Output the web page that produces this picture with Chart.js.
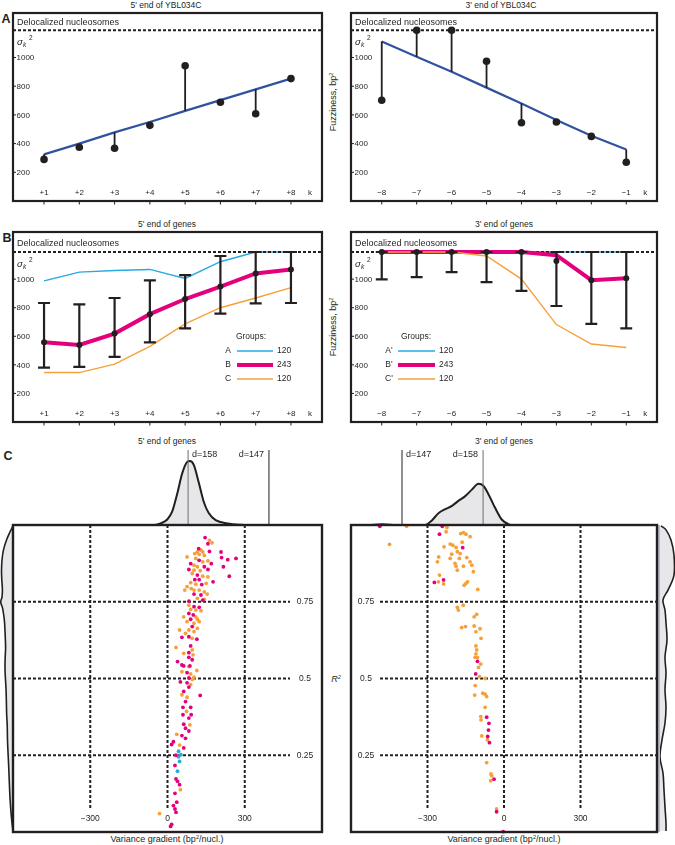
<!DOCTYPE html>
<html>
<head>
<meta charset="utf-8">
<title>Nucleosome fuzziness</title>
<script src="https://cdn.jsdelivr.net/npm/chart.js@4.4.1/dist/chart.umd.min.js"></script>
<style>
  html, body { margin: 0; padding: 0; background: #fff; }
  body { position: relative; width: 675px; height: 845px; overflow: hidden;
         font-family: "Liberation Sans", Arial, sans-serif; color: #231f20; }
  canvas { position: absolute; }
  .lbl { position: absolute; white-space: nowrap; line-height: 1; transform: translate(-50%, -50%); }
  .ttl { font-size: 8.5px; }
  .panel { font-size: 12.5px; font-weight: bold; }
  .ax { font-size: 9px; }
  .rot { transform: translate(-50%, -50%) rotate(-90deg); }
  sup { font-size: 62%; position: relative; top: -0.5em; vertical-align: baseline; }
</style>
</head>
<body>
<div class="lbl panel" style="left:6px;top:19px">A</div>
<div class="lbl panel" style="left:7px;top:238px">B</div>
<div class="lbl panel" style="left:8px;top:456px">C</div>

<div class="lbl ttl" style="left:166px;top:5px">5' end of YBL034C</div>
<div class="lbl ttl" style="left:501px;top:5px">3' end of YBL034C</div>
<div class="lbl ttl" style="left:167px;top:224px">5' end of genes</div>
<div class="lbl ttl" style="left:504px;top:224px">3' end of genes</div>
<div class="lbl ttl" style="left:167px;top:441px">5' end of genes</div>
<div class="lbl ttl" style="left:504px;top:441px">3' end of genes</div>

<div class="lbl ax rot" style="left:333px;top:102px">Fuzziness, bp<sup>2</sup></div>
<div class="lbl ax rot" style="left:333px;top:327px">Fuzziness, bp<sup>2</sup></div>
<div class="lbl ax" style="left:336px;top:679px;font-style:italic">R<sup>2</sup></div>
<div class="lbl ax" style="left:167px;top:839px">Variance gradient (bp<sup>2</sup>/nucl.)</div>
<div class="lbl ax" style="left:504px;top:839px">Variance gradient (bp<sup>2</sup>/nucl.)</div>

<script>
  /* ── colours / fonts ── */
  const INK = '#231f20';
  const MAGENTA = '#e4007c';
  const ORANGE = '#f6a03a';
  const CYAN = '#27a9e1';
  const BLUE = '#3152a0';
  const DENS_FILL = '#e7e7e9';
  const FONT = '"Liberation Sans", Arial, sans-serif';

  /* ── shared axes ── */
  const k5 = [1, 2, 3, 4, 5, 6, 7, 8];
  const k3 = [-8, -7, -6, -5, -4, -3, -2, -1];
  const k5Labels = ['+1', '+2', '+3', '+4', '+5', '+6', '+7', '+8'];
  const k3Labels = ['\u22128', '\u22127', '\u22126', '\u22125', '\u22124', '\u22123', '\u22122', '\u22121'];
  const fuzzTicks = [200, 400, 600, 800, 1000];
  const delocLevel = 1190;

  /* ── A: YBL034C ── */
  const ybl5Obs = [290, 375, 368, 527, 942, 688, 608, 853];
  const ybl5Fit = [325, 400, 478, 550, 628, 703, 778, 853];
  const ybl3Obs = [702, 1190, 1190, 974, 545, 550, 450, 270];
  const ybl3Fit = [1112, 1005, 900, 790, 680, 565, 455, 359];

  /* ── B: all genes ── */
  const genes5Mean = [558, 539, 619, 755, 861, 948, 1040, 1068];
  const genes5Lo = [381, 386, 456, 558, 656, 758, 831, 833];
  const genes5Hi = [833, 824, 868, 991, 1028, 1162, 1190, 1190];
  const genes5A = [988, 1049, 1061, 1068, 1005, 1122, 1190, 1190];
  const genes5C = [346, 346, 405, 529, 687, 800, 868, 941];

  const genes3Line = [1190, 1190, 1190, 1190, 1190, 1168, 993, 1007];
  const genes3Dot = [1190, 1190, 1190, 1190, 1190, 1127, 993, 1007];
  const genes3Lo = [998, 1014, 1049, 979, 918, 812, 687, 656];
  const genes3Hi = [1190, 1190, 1190, 1190, 1190, 1190, 1190, 1190];
  const genes3A = [1190, 1190, 1190, 1190, 1190, 1190, 1190, 1190];
  const genes3C = [1190, 1190, 1190, 1162, 1000, 682, 546, 522];

  const groups5 = ['A', 'B', 'C'];
  const groups3 = ["A'", "B'", "C'"];
  const groupCounts = [120, 243, 120];

  /* ── C: variance gradient vs R² ── */
  const gradTicks = [-300, 0, 300];
  const gradLabels = ['\u2212300', '0', '300'];
  const r2Ticks = [0.25, 0.5, 0.75];
  const r2Labels = ['0.25', '0.5', '0.75'];

  const grad5Magenta = [[146,0.959],[157,0.939],[121,0.923],[163,0.914],[208,0.912],[210,0.894],[234,0.887],[266,0.891],[217,0.864],[240,0.833],[123,0.885],[170,0.874],[90,0.874],[143,0.864],[83,0.855],[157,0.855],[116,0.837],[106,0.822],[123,0.822],[177,0.815],[133,0.806],[103,0.775],[130,0.772],[137,0.755],[83,0.752],[103,0.734],[123,0.732],[83,0.712],[100,0.707],[90,0.693],[96,0.669],[56,0.634],[83,0.636],[114,0.628],[90,0.606],[83,0.584],[83,0.569],[39,0.555],[96,0.561],[56,0.544],[63,0.541],[87,0.541],[76,0.519],[83,0.502],[50,0.489],[76,0.486],[83,0.472],[127,0.445],[63,0.458],[70,0.425],[60,0.406],[90,0.406],[92,0.382],[60,0.382],[83,0.371],[63,0.351],[70,0.338],[83,0.329],[56,0.314],[70,0.305],[23,0.294],[16,0.285],[63,0.274],[33,0.250],[29,0.217],[33,0.173],[39,0.165],[47,0.154],[29,0.126],[36,0.097],[23,0.086],[29,0.075],[33,0.064],[16,0.025],[12,0.018]];
  const grad5Orange = [[163,0.950],[173,0.942],[130,0.918],[116,0.912],[137,0.912],[106,0.907],[123,0.904],[143,0.901],[76,0.896],[110,0.891],[137,0.880],[157,0.883],[103,0.869],[116,0.864],[103,0.853],[127,0.851],[96,0.842],[137,0.833],[157,0.831],[90,0.812],[110,0.807],[150,0.810],[76,0.799],[92,0.793],[103,0.788],[123,0.788],[67,0.788],[143,0.782],[154,0.775],[116,0.761],[143,0.758],[83,0.739],[90,0.725],[110,0.723],[130,0.721],[63,0.701],[110,0.701],[116,0.693],[76,0.685],[103,0.680],[123,0.685],[116,0.663],[83,0.658],[103,0.653],[47,0.658],[70,0.647],[96,0.631],[33,0.601],[96,0.593],[63,0.582],[99,0.577],[83,0.539],[114,0.526],[56,0.522],[90,0.515],[103,0.504],[96,0.497],[90,0.480],[56,0.447],[76,0.439],[74,0.393],[87,0.349],[36,0.318],[47,0.283],[50,0.138],[-31,0.060]];
  const grad5Cyan = [[43,0.263],[52,0.252],[43,0.245],[47,0.230],[39,0.198]];

  const grad3Magenta = [[-487,0.996],[-242,0.996],[-253,0.970],[-162,0.926],[-237,0.821],[-273,0.813],[-104,0.556],[-111,0.515],[-68,0.374],[-59,0.354],[-61,0.332],[-64,0.311],[-57,0.291],[-39,0.172],[-29,0.066],[-3,0.001]];
  const grad3Orange = [[-382,0.996],[-449,0.937],[-224,0.992],[-227,0.978],[-170,0.972],[-159,0.975],[-149,0.970],[-133,0.962],[-164,0.944],[-211,0.938],[-201,0.934],[-188,0.927],[-235,0.929],[-183,0.913],[-172,0.907],[-205,0.905],[-256,0.896],[-211,0.891],[-175,0.891],[-146,0.894],[-133,0.880],[-261,0.880],[-192,0.875],[-188,0.866],[-159,0.866],[-126,0.869],[-183,0.853],[-120,0.848],[-253,0.837],[-257,0.815],[-237,0.808],[-143,0.815],[-149,0.810],[-156,0.804],[-103,0.790],[-183,0.732],[-160,0.739],[-179,0.723],[-107,0.709],[-117,0.701],[-166,0.666],[-151,0.669],[-117,0.671],[-94,0.662],[-110,0.652],[-90,0.631],[-110,0.606],[-107,0.593],[-110,0.580],[-113,0.569],[-104,0.568],[-91,0.547],[-100,0.536],[-96,0.506],[-74,0.500],[-113,0.477],[-83,0.452],[-74,0.449],[-68,0.441],[-115,0.446],[-74,0.406],[-91,0.376],[-90,0.365],[-87,0.313],[-65,0.300],[-68,0.226],[-51,0.189],[-48,0.183],[-52,0.167],[-29,0.075]];

  // marginal densities (gradient, relative height) and (R², width)
  const dens5Top = [[-600,0],[-300,0],[-100,0.005],[-60,0.01],[-27,0.04],[-1,0.1],[18,0.22],[38,0.5],[57,0.81],[77,0.99],[87,1.0],[102,0.94],[122,0.66],[141,0.37],[160,0.2],[187,0.09],[233,0.04],[284,0.02],[390,0.01],[600,0]];
  const dens3Top = [[-600,0],[-593,0.005],[-529,0.015],[-476,0.026],[-425,0.01],[-347,0.005],[-308,0.015],[-282,0.09],[-256,0.2],[-230,0.26],[-204,0.31],[-178,0.39],[-152,0.46],[-126,0.56],[-100,0.65],[-81,0.62],[-61,0.49],[-35,0.28],[-9,0.1],[17,0.03],[43,0.005],[600,0]];
  const dens5Side = [[0.997,0],[0.974,3.5],[0.951,6.5],[0.919,9.5],[0.886,11],[0.85,11.5],[0.821,11.2],[0.79,10.6],[0.765,11],[0.749,12.3],[0.73,10.5],[0.70,9],[0.68,8.4],[0.64,7.8],[0.60,7.4],[0.57,7.8],[0.53,8],[0.49,7.4],[0.46,6.9],[0.42,6.6],[0.38,6.3],[0.35,5.8],[0.30,5.5],[0.26,5],[0.22,4.4],[0.18,3.9],[0.14,3.4],[0.10,2.8],[0.06,1.9],[0.03,1],[0.003,0]];
  const dens3Side = [[0.997,3],[0.984,8],[0.951,13],[0.902,16],[0.837,16],[0.788,10],[0.756,5],[0.723,7],[0.681,8],[0.625,9],[0.570,7],[0.518,8],[0.463,7],[0.407,8],[0.355,7],[0.300,4],[0.244,2],[0.192,5],[0.137,6],[0.081,7],[0.029,8],[0.003,8]];

  const repeat5Labels = ['d=158', 'd=147'];
  const repeat5Pos = [80, 394];
  const repeat3Labels = ['d=147', 'd=158'];
  const repeat3Pos = [-400, -82];

  /* ── helpers ── */
  function makeCanvas(left, top, w, h) {
    const c = document.createElement('canvas');
    c.width = w; c.height = h;
    c.style.left = left + 'px'; c.style.top = top + 'px';
    c.style.width = w + 'px'; c.style.height = h + 'px';
    document.body.appendChild(c);
    return c;
  }

  function baseOpts(pad, xr, yr) {
    return {
      responsive: false, animation: false, events: [], devicePixelRatio: 1,
      layout: { padding: pad },
      plugins: { legend: { display: false }, tooltip: { enabled: false } },
      scales: {
        x: { type: 'linear', display: false, min: xr[0], max: xr[1] },
        y: { type: 'linear', display: false, min: yr[0], max: yr[1] }
      }
    };
  }

  function lineDs(pts, color, width, order, extra) {
    return Object.assign({
      data: pts, showLine: true, borderColor: color, borderWidth: width,
      pointRadius: 0, fill: false, tension: 0, order: order
    }, extra || {});
  }

  function seg(ctx, x1, y1, x2, y2) {
    ctx.beginPath(); ctx.moveTo(x1, y1); ctx.lineTo(x2, y2); ctx.stroke();
  }

  function xy(ks, vals) { return ks.map((k, i) => ({ x: k, y: vals[i] })); }

  /* frame, ticks and labels for the fuzziness panels (A, B) */
  function fuzzDeco(cfg) {
    return {
      id: 'fuzzDeco',
      afterDraw(chart) {
        const ctx = chart.ctx, a = chart.chartArea, xs = chart.scales.x, ys = chart.scales.y;
        ctx.save();
        ctx.strokeStyle = INK; ctx.fillStyle = INK;
        ctx.lineWidth = 2.2;
        ctx.strokeRect(a.left, a.top, a.right - a.left, a.bottom - a.top);

        ctx.lineWidth = 1;
        ctx.font = '8px ' + FONT;
        ctx.textAlign = 'left'; ctx.textBaseline = 'middle';
        fuzzTicks.forEach(v => {
          const y = ys.getPixelForValue(v);
          seg(ctx, a.left, y, a.left + 3, y);
          ctx.fillText(String(v), a.left + 3.5, y + 0.5);
        });
        ctx.textAlign = 'center';
        cfg.k.forEach((k, i) => {
          const x = xs.getPixelForValue(k);
          seg(ctx, x, a.bottom, x, a.bottom + 3.5);
          ctx.fillText(cfg.kLabels[i], x, a.bottom - 8.5);
        });
        ctx.fillText('k', xs.getPixelForValue(cfg.k[cfg.k.length - 1]) + 19, a.bottom - 8.5);

        const yd = ys.getPixelForValue(delocLevel);
        ctx.textAlign = 'left';
        ctx.font = '9px ' + FONT;
        ctx.fillText('Delocalized nucleosomes', a.left + 4, yd - 8);
        ctx.font = 'italic 9.5px ' + FONT;
        ctx.fillText('\u03C3', a.left + 4, yd + 12);
        ctx.font = 'italic 6.5px ' + FONT;
        ctx.fillText('k', a.left + 10, yd + 15);
        ctx.font = '6.5px ' + FONT;
        ctx.fillText('2', a.left + 16, yd + 8);

        if (cfg.legend) {
          const L = cfg.legend;
          const x0 = a.left, y0 = a.top;
          ctx.font = '8.5px ' + FONT;
          ctx.textAlign = 'center';
          ctx.fillText('Groups:', x0 + L.title, y0 + 105);
          L.names.forEach((n, i) => {
            const y = y0 + 119 + i * 14;
            ctx.textAlign = 'center';
            ctx.fillText(n, x0 + L.letter, y);
            ctx.strokeStyle = L.colors[i]; ctx.lineWidth = L.widths[i];
            seg(ctx, x0 + L.line[0], y, x0 + L.line[1], y);
            ctx.textAlign = 'left';
            ctx.fillText(String(groupCounts[i]), x0 + L.count, y);
          });
        }
        ctx.restore();
      }
    };
  }

  /* ── A panels ── */
  function yblChart(canvas, pad, xr, ks, labels, obs, fit) {
    const datasets = [
      lineDs([{ x: xr[0], y: delocLevel }, { x: xr[1], y: delocLevel }], INK, 2, 4, { borderDash: [3, 2] }),
      lineDs(xy(ks, fit), BLUE, 2.2, 3)
    ];
    ks.forEach((k, i) => {
      datasets.push(lineDs([{ x: k, y: obs[i] }, { x: k, y: fit[i] }], INK, 1.8, 2));
    });
    datasets.push({ data: xy(ks, obs), pointRadius: 3.8, pointBackgroundColor: INK,
                    pointBorderWidth: 0, order: 0, clip: false });
    new Chart(canvas, {
      type: 'scatter', data: { datasets },
      options: baseOpts(pad, xr, [0, 1310]),
      plugins: [fuzzDeco({ k: ks, kLabels: labels })]
    });
  }

  /* ── B panels ── */
  function errorBars(ks, lo, hi, capHalf) {
    const pts = [];
    ks.forEach((k, i) => {
      pts.push({ x: k, y: lo[i] }, { x: k, y: hi[i] }, { x: k, y: null });
      pts.push({ x: k - capHalf, y: hi[i] }, { x: k + capHalf, y: hi[i] }, { x: k, y: null });
      pts.push({ x: k - capHalf, y: lo[i] }, { x: k + capHalf, y: lo[i] }, { x: k, y: null });
    });
    return pts;
  }

  function genesChart(canvas, pad, xr, ks, labels, lineB, dotB, lo, hi, serA, serC, legend) {
    const datasets = [
      lineDs(xy(ks, serA), CYAN, 1.4, 6),
      lineDs([{ x: xr[0], y: delocLevel }, { x: xr[1], y: delocLevel }], INK, 2, 5, { borderDash: [3, 2] }),
      lineDs(xy(ks, lineB), MAGENTA, 4, 4),
      lineDs(xy(ks, serC), ORANGE, 1.4, 3),
      lineDs(errorBars(ks, lo, hi, 0.17), INK, 2.2, 2, { spanGaps: false }),
      { data: xy(ks, dotB), pointRadius: 3, pointBackgroundColor: INK, pointBorderWidth: 0, order: 0, clip: false }
    ];
    new Chart(canvas, {
      type: 'scatter', data: { datasets },
      options: baseOpts(pad, xr, [0, 1330]),
      plugins: [fuzzDeco({ k: ks, kLabels: labels, legend })]
    });
  }

  /* ── C panels ── */
  function scatterDeco(cfg) {
    return {
      id: 'scatterDeco',
      beforeDatasetsDraw(chart) {
        const ctx = chart.ctx, a = chart.chartArea, xs = chart.scales.x, ys = chart.scales.y;
        ctx.save();
        ctx.strokeStyle = INK; ctx.lineWidth = 2; ctx.setLineDash([3, 2]);
        gradTicks.forEach(v => {
          const x = xs.getPixelForValue(v);
          seg(ctx, x, a.top, x, a.bottom - 22);
        });
        r2Ticks.forEach(v => {
          const y = ys.getPixelForValue(v);
          seg(ctx, a.left + cfg.hFrom, y, a.right - cfg.hTo, y);
        });
        ctx.restore();
      },
      afterDraw(chart) {
        const ctx = chart.ctx, a = chart.chartArea, xs = chart.scales.x, ys = chart.scales.y;
        ctx.save();
        if (cfg.strip) {
          ctx.fillStyle = '#b9b9d2';
          ctx.fillRect(a.right, a.top, 3, a.bottom - a.top);
        }
        ctx.strokeStyle = INK; ctx.lineWidth = 2.4;
        ctx.strokeRect(a.left, a.top, a.right - a.left, a.bottom - a.top);
        ctx.fillStyle = INK;
        ctx.font = '8.5px ' + FONT;
        ctx.textAlign = 'center'; ctx.textBaseline = 'middle';
        gradTicks.forEach((v, i) => ctx.fillText(gradLabels[i], xs.getPixelForValue(v), a.bottom - 13));
        r2Ticks.forEach((v, i) => ctx.fillText(r2Labels[i], cfg.labelX(a), ys.getPixelForValue(v)));
        ctx.restore();
      }
    };
  }

  function pts(arr) { return arr.map(p => ({ x: p[0], y: p[1] })); }

  function gradChart(canvas, pad, magenta, orange, cyan, cfg) {
    const dot = (data, color) => ({ data: pts(data), pointRadius: 1.9, pointBackgroundColor: color,
                                   pointBorderWidth: 0, clip: false });
    new Chart(canvas, {
      type: 'scatter',
      data: { datasets: [dot(magenta, MAGENTA), dot(orange, ORANGE), dot(cyan, CYAN)] },
      options: baseOpts(pad, [-600, 600], [0, 1]),
      plugins: [scatterDeco(cfg)]
    });
  }

  function topDensity(canvas, pad, dens, marks, markLabels, markColors) {
    const datasets = [
      lineDs(pts(dens), INK, 2, 2, { fill: 'origin', backgroundColor: DENS_FILL, cubicInterpolationMode: 'monotone' })
    ];
    marks.forEach((m, i) => {
      datasets.push(lineDs([{ x: m, y: 0 }, { x: m, y: 1.17 }], markColors[i], 1, 1));
    });
    new Chart(canvas, {
      type: 'scatter', data: { datasets },
      options: baseOpts(pad, [-600, 600], [0, 1.17]),
      plugins: [{
        id: 'markLabels',
        afterDraw(chart) {
          const ctx = chart.ctx, xs = chart.scales.x, a = chart.chartArea;
          ctx.save();
          ctx.fillStyle = INK; ctx.font = '9px ' + FONT; ctx.textBaseline = 'middle';
          marks.forEach((m, i) => {
            const x = xs.getPixelForValue(m);
            ctx.textAlign = i === 0 ? 'left' : 'right';
            ctx.fillText(markLabels[i], i === 0 ? x + 4 : x - 5, a.top + 5);
          });
          ctx.restore();
        }
      }]
    });
  }

  function sideDensity(canvas, pad, dens, wMax, reverse) {
    const opts = baseOpts(pad, [0, wMax], [0, 1]);
    opts.indexAxis = 'y';
    opts.scales.x.reverse = reverse;
    new Chart(canvas, {
      type: 'line',
      data: { datasets: [{
        data: dens.map(p => ({ x: p[1], y: p[0] })),
        borderColor: INK, borderWidth: 1.6, backgroundColor: DENS_FILL,
        fill: 'origin', pointRadius: 0, tension: 0.35
      }] },
      options: opts
    });
  }

  /* ── build ── */
  yblChart(makeCanvas(0, 0, 337, 215), { left: 13, right: 15, top: 13, bottom: 14 },
           [0.12, 8.88], k5, k5Labels, ybl5Obs, ybl5Fit);
  yblChart(makeCanvas(337, 0, 338, 215), { left: 14, right: 18, top: 13, bottom: 14 },
           [-8.88, -0.12], k3, k3Labels, ybl3Obs, ybl3Fit);

  genesChart(makeCanvas(0, 215, 337, 215), { left: 13, right: 15, top: 17, bottom: 8 },
             [0.12, 8.88], k5, k5Labels, genes5Mean, genes5Mean, genes5Lo, genes5Hi, genes5A, genes5C,
             { names: groups5, colors: [CYAN, MAGENTA, ORANGE], widths: [1.4, 4, 1.4],
               title: 238, letter: 215, line: [224, 260], count: 264 });
  genesChart(makeCanvas(337, 215, 338, 215), { left: 14, right: 18, top: 17, bottom: 8 },
             [-8.88, -0.12], k3, k3Labels, genes3Line, genes3Dot, genes3Lo, genes3Hi, genes3A, genes3C,
             { names: groups3, colors: [CYAN, MAGENTA, ORANGE], widths: [1.4, 4, 1.4],
               title: 65, letter: 38, line: [47, 84], count: 88 });

  topDensity(makeCanvas(0, 440, 337, 87), { left: 13, right: 15, top: 10, bottom: 1 },
             dens5Top, repeat5Pos, repeat5Labels, ['#6d6e71', INK]);
  topDensity(makeCanvas(337, 440, 338, 87), { left: 14, right: 18, top: 10, bottom: 1 },
             dens3Top, repeat3Pos, repeat3Labels, [INK, '#6d6e71']);

  sideDensity(makeCanvas(0, 520, 14, 325), { left: 0, right: 1, top: 5, bottom: 13 }, dens5Side, 13, true);
  sideDensity(makeCanvas(657, 520, 18, 325), { left: 1, right: 0, top: 5, bottom: 13 }, dens3Side, 17, false);

  gradChart(makeCanvas(0, 520, 337, 325), { left: 13, right: 15, top: 5, bottom: 13 },
            grad5Magenta, grad5Orange, grad5Cyan,
            { hFrom: 0, hTo: 32, labelX: a => a.right - 17 });
  gradChart(makeCanvas(337, 520, 338, 325), { left: 14, right: 18, top: 5, bottom: 13 },
            grad3Magenta, grad3Orange, [],
            { hFrom: 29, hTo: 0, labelX: a => a.left + 15, strip: true });
</script>
</body>
</html>
